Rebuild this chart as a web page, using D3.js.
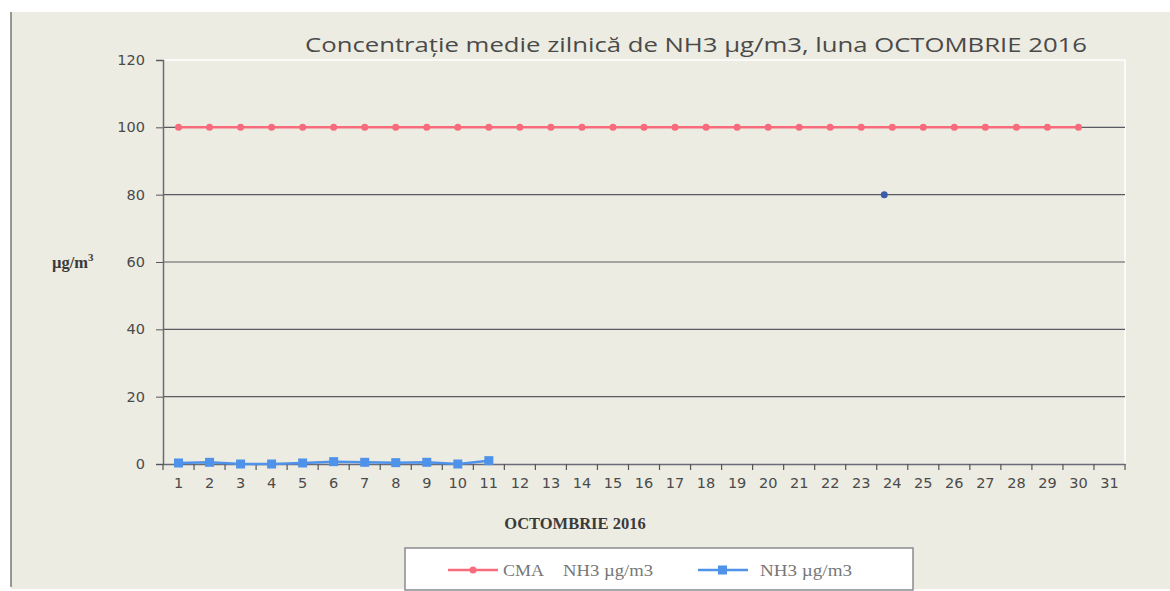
<!DOCTYPE html>
<html><head><meta charset="utf-8">
<script src="https://cdn.jsdelivr.net/npm/d3@7"></script>
<style>body{margin:0;background:#fff;}svg{display:block;}</style>
</head><body><svg id="c" width="1170" height="591"></svg>
<script>
const days = d3.range(1, 32).map(String);
const cmaDays = d3.range(1, 31).map(String);
const cmaValues = cmaDays.map(() => 100);
const nh3Days = ["1","2","3","4","5","6","7","8","9","10","11"];
const nh3Values = [0.3, 0.5, 0, 0, 0.3, 0.7, 0.5, 0.4, 0.5, 0, 1.0];
const strayDay = ["24"];
const strayValue = [80];
const yTicks = [0, 20, 40, 60, 80, 100, 120];
const title = "Concentrație medie zilnică de NH3 µg/m3, luna OCTOMBRIE 2016";
const xTitle = "OCTOMBRIE 2016";
const yTitle = "µg/m";
const legendLabels = ["CMA", "NH3 µg/m3", "NH3 µg/m3"];

const svg = d3.select("#c");
const W = 1170, H = 591;
const m = {l: 163, r: 1125, t: 60, b: 464};
const red = "#f76b7c", blue = "#4f92ea";

svg.append("rect").attr("x", 11).attr("y", 12).attr("width", W - 11).attr("height", H - 14).attr("fill", "#edece2");
svg.append("line").attr("x1", 11).attr("x2", 11).attr("y1", 12).attr("y2", 587).attr("stroke", "#777").attr("stroke-width", 1.5);

const x = d3.scaleBand().domain(days).range([m.l, m.r]);
const y = d3.scaleLinear().domain([0, 120]).range([m.b, m.t]);

svg.append("line").attr("x1", m.l).attr("x2", m.r).attr("y1", m.t).attr("y2", m.t).attr("stroke", "#fff").attr("stroke-width", 1.5);
svg.append("line").attr("x1", m.r).attr("x2", m.r).attr("y1", m.t).attr("y2", m.b).attr("stroke", "#fff").attr("stroke-width", 1.5);

svg.append("g").selectAll("line").data(yTicks.filter(d => d > 0 && d < 120)).join("line")
  .attr("x1", m.l).attr("x2", m.r).attr("y1", d => y(d)).attr("y2", d => y(d))
  .attr("stroke", "#5a5a62").attr("stroke-width", 1.2);

const ya = svg.append("g").attr("transform", `translate(${m.l},0)`)
  .call(d3.axisLeft(y).tickValues(yTicks).tickSize(7).tickPadding(11));
ya.select(".domain").attr("stroke", "#6a6a78").attr("stroke-width", 1.5);
ya.selectAll(".tick line").attr("stroke", "#555");
ya.selectAll("text").attr("font-family", "DejaVu Sans, Verdana, sans-serif").attr("font-size", 14.5).attr("fill", "#4a4a4a");

const xa = svg.append("g").attr("transform", `translate(0,${m.b})`)
  .call(d3.axisBottom(x).tickSize(0).tickPadding(14));
xa.select(".domain").attr("stroke", "#6a6a78").attr("stroke-width", 1.5);
xa.selectAll("text").attr("font-family", "DejaVu Sans, Verdana, sans-serif").attr("font-size", 14.5).attr("fill", "#4a4a4a");
const bounds = days.map(d => x(d)).concat([m.r]);
svg.append("g").selectAll("line").data(bounds).join("line")
  .attr("x1", d => d).attr("x2", d => d).attr("y1", m.b).attr("y2", m.b + 6)
  .attr("stroke", "#555").attr("stroke-width", 1.2);

const cx = d => x(d) + x.bandwidth() / 2;

const cma = cmaDays.map((d, i) => ({d, v: cmaValues[i]}));
svg.append("path").datum(cma)
  .attr("d", d3.line().x(p => cx(p.d)).y(p => y(p.v)))
  .attr("fill", "none").attr("stroke", red).attr("stroke-width", 2.5);
svg.append("g").selectAll("circle").data(cma).join("circle")
  .attr("cx", p => cx(p.d)).attr("cy", p => y(p.v)).attr("r", 3.5).attr("fill", red);

const nh3 = nh3Days.map((d, i) => ({d, v: nh3Values[i]}));
svg.append("path").datum(nh3)
  .attr("d", d3.line().x(p => cx(p.d)).y(p => y(p.v)))
  .attr("fill", "none").attr("stroke", blue).attr("stroke-width", 2.5);
svg.append("g").selectAll("rect").data(nh3).join("rect")
  .attr("x", p => cx(p.d) - 4.5).attr("y", p => y(p.v) - 4.5).attr("width", 9).attr("height", 9).attr("fill", blue);

svg.append("g").selectAll("circle").data(strayDay.map((d, i) => ({d, v: strayValue[i]}))).join("circle")
  .attr("cx", p => cx(p.d) - 8).attr("cy", p => y(p.v)).attr("r", 3.5).attr("fill", "#3a5fa8");

svg.append("text").attr("x", 696).attr("y", 52).attr("text-anchor", "middle")
  .attr("font-family", "Open Sans, sans-serif").attr("font-size", 20.5).attr("fill", "#4a4a4a")
  .attr("textLength", 782).attr("lengthAdjust", "spacingAndGlyphs").text(title);

svg.append("text").attr("x", 575).attr("y", 529).attr("text-anchor", "middle")
  .attr("font-family", "Liberation Serif, serif").attr("font-weight", "bold").attr("font-size", 16.5).attr("fill", "#3a3a3a")
  .text(xTitle);

const yt = svg.append("text").attr("x", 52).attr("y", 268)
  .attr("font-family", "Liberation Serif, serif").attr("font-weight", "bold").attr("font-size", 16.5).attr("fill", "#3a3a3a");
yt.append("tspan").text(yTitle);
yt.append("tspan").attr("dy", -7).attr("font-size", 11).text("3");

const lg = svg.append("g");
lg.append("rect").attr("x", 405).attr("y", 548).attr("width", 508).attr("height", 42)
  .attr("fill", "#fff").attr("stroke", "#8a8a90").attr("stroke-width", 1.5);
lg.append("line").attr("x1", 448).attr("x2", 498).attr("y1", 570).attr("y2", 570).attr("stroke", red).attr("stroke-width", 2.5);
lg.append("circle").attr("cx", 473).attr("cy", 570).attr("r", 3.5).attr("fill", red);
const lf = {family: "Liberation Serif, serif", size: 17};
lg.append("text").attr("x", 503).attr("y", 576).attr("font-family", lf.family).attr("font-size", lf.size).attr("fill", "#777")
  .attr("textLength", 41).attr("lengthAdjust", "spacingAndGlyphs").text(legendLabels[0]);
lg.append("text").attr("x", 563).attr("y", 576).attr("font-family", lf.family).attr("font-size", lf.size).attr("fill", "#777")
  .attr("textLength", 90).attr("lengthAdjust", "spacingAndGlyphs").text(legendLabels[1]);
lg.append("line").attr("x1", 698).attr("x2", 748).attr("y1", 570).attr("y2", 570).attr("stroke", blue).attr("stroke-width", 2.5);
lg.append("rect").attr("x", 718).attr("y", 565.5).attr("width", 9).attr("height", 9).attr("fill", blue);
lg.append("text").attr("x", 760).attr("y", 576).attr("font-family", lf.family).attr("font-size", lf.size).attr("fill", "#777")
  .attr("textLength", 92).attr("lengthAdjust", "spacingAndGlyphs").text(legendLabels[2]);
</script></body></html>
